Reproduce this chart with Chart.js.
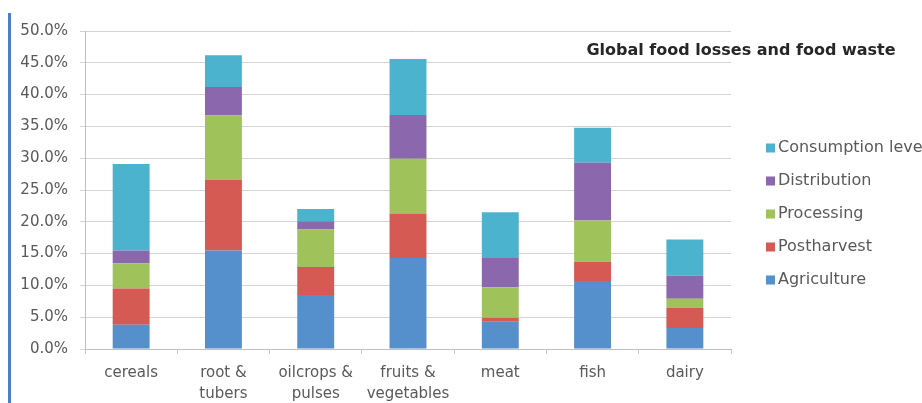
<!DOCTYPE html>
<html>
<head>
<meta charset="utf-8">
<title>Global food losses and food waste</title>
<script src="https://cdn.jsdelivr.net/npm/chart.js@4.4.1/dist/chart.umd.min.js"></script>
<style>
    html, body { margin: 0; padding: 0; background: #ffffff; }
    #wrap { position: relative; width: 922px; height: 403px; }
</style>
</head>
<body>
<div id="wrap"><canvas id="lossChart" width="922" height="403"></canvas></div>
<script>
// --- Data (percent of production) ---
const categories = [
    ['cereals'],
    ['root &', 'tubers'],
    ['oilcrops &', 'pulses'],
    ['fruits &', 'vegetables'],
    ['meat'],
    ['fish'],
    ['dairy']
];
const agriculture  = [3.8, 15.5, 8.5, 14.3, 4.3, 10.7, 3.3];
const postharvest  = [5.7, 11.1, 4.4, 7.0, 0.6, 3.0, 3.2];
const processing   = [4.0, 10.1, 5.9, 8.6, 4.8, 6.5, 1.4];
const distribution = [2.0, 4.5, 1.3, 6.9, 4.6, 9.1, 3.6];
const consumption  = [13.6, 5.0, 1.9, 8.8, 7.2, 5.5, 5.7];
const seriesNames  = ['Agriculture', 'Postharvest', 'Processing', 'Distribution', 'Consumption level'];
const yTicks = [0, 5, 10, 15, 20, 25, 30, 35, 40, 45, 50];
const chartTitle = 'Global food losses and food waste';

const colors = ['#5590cc', '#d45a53', '#9fc25a', '#8b68ad', '#4cb3cf'];
const textGray = '#595959';
const fontFamily = '"DejaVu Sans", Verdana, sans-serif';

// Blue rule down the left edge of the picture
const leftRule = {
    id: 'leftRule',
    beforeDraw(chart) {
        const ctx = chart.ctx;
        ctx.save();
        ctx.fillStyle = '#4a7fc8';
        ctx.fillRect(8, 13, 3, chart.height - 13);
        ctx.restore();
    }
};

// Title sits inside the plot, upper right
const innerTitle = {
    id: 'innerTitle',
    afterDraw(chart) {
        const ctx = chart.ctx;
        ctx.save();
        ctx.font = 'bold 16px ' + fontFamily;
        ctx.fillStyle = '#262626';
        ctx.textAlign = 'center';
        ctx.textBaseline = 'middle';
        ctx.fillText(chartTitle, 741, 51);
        ctx.restore();
    }
};

// Legend on the right, top series first (like the Excel original)
const sideLegend = {
    id: 'sideLegend',
    afterDraw(chart) {
        const ctx = chart.ctx;
        const sets = chart.data.datasets.slice().reverse();
        ctx.save();
        ctx.font = '16px ' + fontFamily;
        ctx.textBaseline = 'middle';
        ctx.textAlign = 'left';
        sets.forEach(function(ds, i) {
            const y = 148 + i * 33;
            ctx.fillStyle = ds.backgroundColor;
            ctx.fillRect(766, y - 4.5, 9, 9);
            ctx.fillStyle = textGray;
            ctx.fillText(ds.label, 778, y);
        });
        ctx.restore();
    }
};

const seriesData = [agriculture, postharvest, processing, distribution, consumption];

new Chart(document.getElementById('lossChart').getContext('2d'), {
    type: 'bar',
    data: {
        labels: categories,
        datasets: seriesData.map(function(values, i) {
            return {
                label: seriesNames[i],
                data: values,
                backgroundColor: colors[i],
                borderWidth: 0,
                categoryPercentage: 1.0,
                barPercentage: 0.4
            };
        })
    },
    options: {
        responsive: false,
        animation: false,
        layout: { padding: { left: 0, top: 31, right: 191, bottom: 0 } },
        plugins: {
            legend: { display: false },
            title: { display: false },
            tooltip: { enabled: false }
        },
        scales: {
            x: {
                stacked: true,
                grid: {
                    offset: true,
                    drawOnChartArea: false,
                    drawTicks: true,
                    tickLength: 5,
                    color: '#c8c8c8'
                },
                border: { color: '#bfbfbf' },
                ticks: {
                    color: textGray,
                    padding: 9,
                    maxRotation: 0,
                    autoSkip: false,
                    font: { family: fontFamily, size: 15, lineHeight: 1.4 }
                },
                afterFit(scale) { scale.height = 54; }
            },
            y: {
                stacked: true,
                min: 0,
                max: 50,
                afterBuildTicks(scale) {
                    scale.ticks = yTicks.map(function(v) { return { value: v }; });
                },
                grid: {
                    color: '#d4d4d4',
                    tickLength: 5
                },
                border: { color: '#bfbfbf' },
                ticks: {
                    color: textGray,
                    padding: 12,
                    font: { family: fontFamily, size: 15 },
                    callback: function(v) { return v.toFixed(1) + '%'; }
                },
                afterFit(scale) { scale.width = 85; }
            }
        }
    },
    plugins: [leftRule, innerTitle, sideLegend]
});
</script>
</body>
</html>
